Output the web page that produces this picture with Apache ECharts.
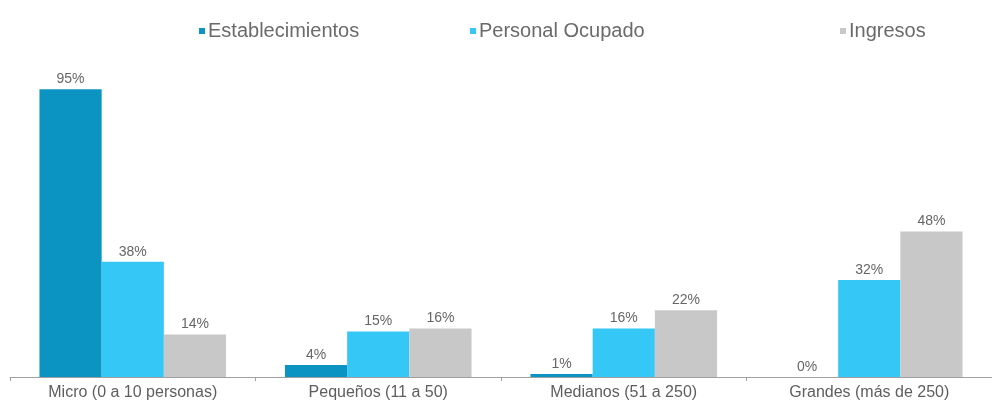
<!DOCTYPE html>
<html><head><meta charset="utf-8">
<script src="https://cdn.jsdelivr.net/npm/echarts@6/dist/echarts.min.js"></script>
<style>html,body{margin:0;padding:0;background:#fff}#c{width:992px;height:404px}</style>
</head><body><div id="c"></div>
<script>
const categories = ['Micro (0 a 10 personas)', 'Pequeños (11 a 50)', 'Medianos (51 a 250)', 'Grandes (más de 250)'];
const seriesNames = ['Establecimientos', 'Personal Ocupado', 'Ingresos'];
const establecimientos = [95, 4, 1, 0];
const personalOcupado = [38, 15, 16, 32];
const ingresos = [14, 16, 22, 48];
const colors = ['#0b94c1', '#35c7f6', '#c9c8c9'];
const values = [establecimientos, personalOcupado, ingresos];
const legendLefts = [199, 470, 840];

const font = 'Liberation Sans, Arial';
const chart = echarts.init(document.getElementById('c'));
chart.setOption({
  animation: false,
  legend: seriesNames.map((n, i) => ({
    top: 21, left: legendLefts[i], padding: 0,
    itemWidth: 6, itemHeight: 6, icon: 'rect', itemGap: 0,
    textStyle: { fontFamily: font, fontSize: 20, color: '#6a6a6a', padding: [0, 0, 0, -2] },
    data: [n]
  })),
  grid: { left: 10, top: 74, width: 990, height: 303 },
  xAxis: {
    type: 'category', data: categories,
    axisLine: { lineStyle: { color: '#a0a0a0', width: 1 } },
    axisTick: { show: true, length: 4, lineStyle: { color: '#a0a0a0' } },
    axisLabel: { fontFamily: font, fontSize: 16, color: '#5e5e5e', margin: 8 }
  },
  yAxis: { type: 'value', min: 0, max: 100, show: false, splitLine: { show: false } },
  series: seriesNames.map((n, i) => ({
    name: n, type: 'bar', data: values[i],
    barGap: '0%', barCategoryGap: '24%',
    itemStyle: { color: colors[i] },
    label: { show: true, position: 'top', formatter: '{c}%', distance: 3,
      fontFamily: font, fontSize: 14, color: '#666' }
  }))
});
</script></body></html>
